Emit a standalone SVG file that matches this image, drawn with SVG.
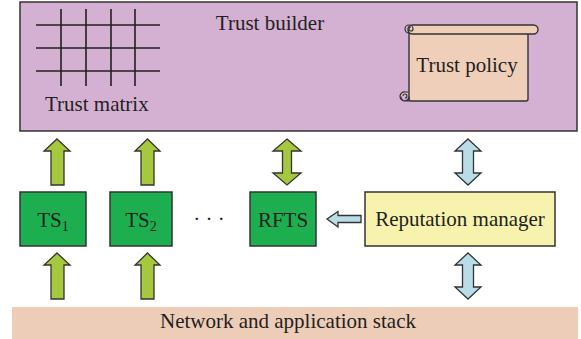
<svg xmlns="http://www.w3.org/2000/svg" width="581" height="339" viewBox="0 0 581 339" font-family="'Liberation Serif', 'DejaVu Serif', serif">
<style>
text{font-family:"Liberation Serif","DejaVu Serif",serif;font-size:21px;fill:#231f20}
.box{stroke:#333;stroke-width:1.5}
.ga{fill:#a6c83e;stroke:#333;stroke-width:1.3;stroke-linejoin:miter}
.ba{fill:#b8dde8;stroke:#333;stroke-width:1.3;stroke-linejoin:miter}
.grid line{stroke:#231f20;stroke-width:1.6}
</style>
<rect width="581" height="339" fill="#fff"/>
<g id="network-stack">
<rect x="12" y="307" width="566" height="32" fill="#eecdb8"/>
<text x="288" y="328" text-anchor="middle">Network and application stack</text>
</g>
<g id="trust-builder">
<rect class="box" x="20" y="2" width="557" height="129" fill="#d4b1d3"/>
<text x="270" y="30" text-anchor="middle">Trust builder</text>
</g>
<g id="trust-matrix">
<g class="grid">
<line x1="36" y1="25" x2="160" y2="25"/>
<line x1="36" y1="48" x2="160" y2="48"/>
<line x1="36" y1="71" x2="160" y2="71"/>
<line x1="61" y1="9" x2="61" y2="86"/>
<line x1="86" y1="9" x2="86" y2="86"/>
<line x1="111" y1="9" x2="111" y2="86"/>
<line x1="135" y1="9" x2="135" y2="86"/>
</g>
<text x="45" y="111">Trust matrix</text>
</g>
<g id="trust-policy">
<path d="M409,30 V99 Q409,101 411,101 H526 Q528,101 528,99 V30 Z" fill="#efcfb9" stroke="#333" stroke-width="1.4"/>
<rect x="408" y="25" width="130" height="9" rx="4.5" fill="#efcfb9" stroke="#333" stroke-width="1.4"/>
<path d="M409,33 A4,4 0 1 1 413,29 A2,2 0 1 1 411,27" fill="none" stroke="#333" stroke-width="1.2"/>
<path d="M409,92 L405,92 A4.5,4.5 0 1 0 409,96.5 V101 H405 A4.5,4.5 0 0 1 401,96.5" fill="#e6c3ae" stroke="#333" stroke-width="1.2"/>
<path d="M403,96 A2,2 0 1 1 405,98" fill="none" stroke="#333" stroke-width="1.1"/>
<text x="467" y="72" text-anchor="middle">Trust policy</text>
</g>
<g id="ts1">
<rect class="box" x="20" y="192" width="66" height="54" fill="#1daf4f"/>
<text x="53" y="227" text-anchor="middle">TS<tspan font-size="14" dy="4">1</tspan></text>
</g>
<g id="ts2">
<rect class="box" x="110" y="192" width="62" height="54" fill="#1daf4f"/>
<text x="141" y="227" text-anchor="middle">TS<tspan font-size="14" dy="4">2</tspan></text>
</g>
<g id="ellipsis">
<text x="209" y="226" text-anchor="middle">· · ·</text>
</g>
<g id="rfts">
<rect class="box" x="250" y="192" width="66" height="54" fill="#1daf4f"/>
<text x="283" y="227" text-anchor="middle">RFTS</text>
</g>
<g id="reputation-manager">
<rect class="box" x="365" y="192" width="190" height="54" fill="#f7f3ae"/>
<text x="460" y="226" text-anchor="middle">Reputation manager</text>
</g>
<g id="connectors">
<polygon class="ga" points="57,139 70,151 64,151 64,185 51,185 51,151 44,151"/>
<polygon class="ga" points="147.5,139 160,151 154,151 154,185 141,185 141,151 135,151"/>
<polygon class="ga" points="57,253 70,265 64,265 64,299 51,299 51,265 44,265"/>
<polygon class="ga" points="147.5,253 160,265 154,265 154,299 141,299 141,265 135,265"/>
<polygon class="ga" points="287,139 301,151 291.5,151 291.5,173 301,173 287,185 273,173 282.5,173 282.5,151 273,151"/>
<polygon class="ba" points="468,139 481,151 473.5,151 473.5,173 481,173 468,185 455,173 462.5,173 462.5,151 455,151"/>
<polygon class="ba" points="468,253 481,265 473.5,265 473.5,287 481,287 468,299 455,287 462.5,287 462.5,265 455,265"/>
<polygon class="ba" points="327,219 338,211.5 338,215.5 361,215.5 361,222.5 338,222.5 338,227"/>
</g>
</svg>
